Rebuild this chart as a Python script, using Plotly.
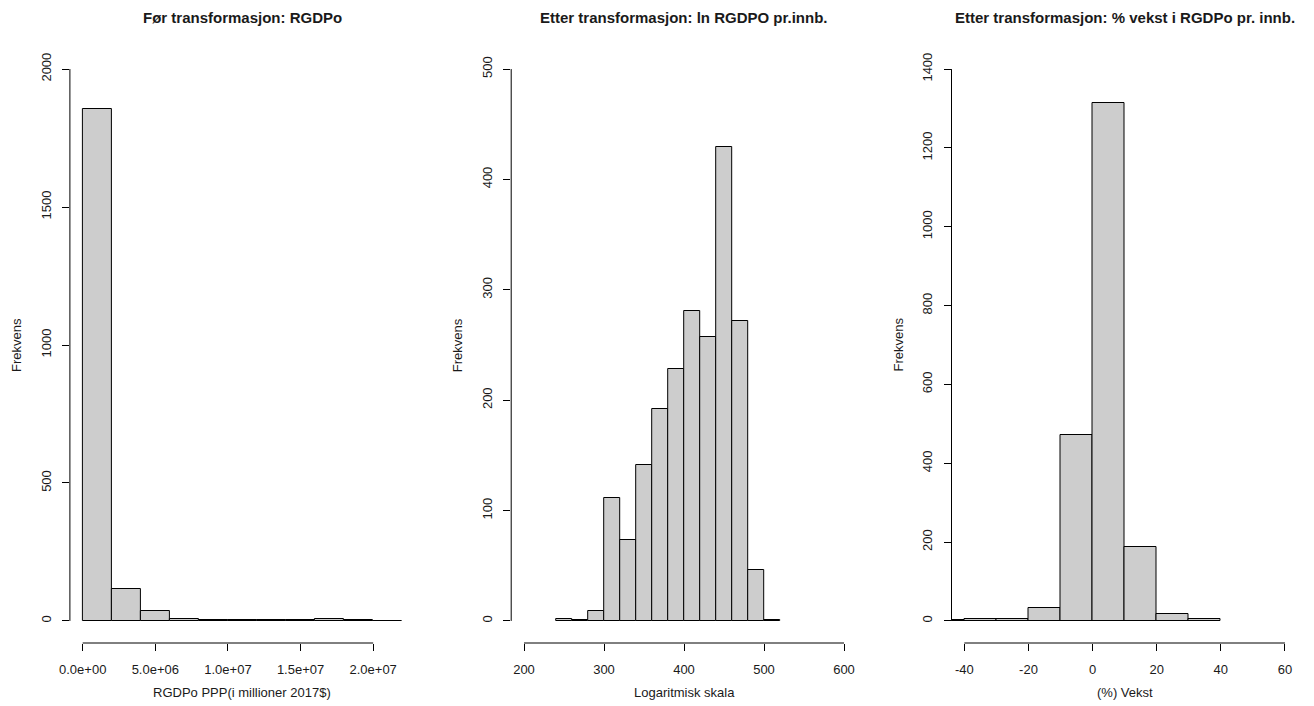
import plotly.graph_objects as go

# ---------------- data ----------------
# Panel 1: RGDPo (bins of 2e6)
breaks1 = [0, 2e6, 4e6, 6e6, 8e6, 10e6, 12e6, 14e6, 16e6, 18e6, 20e6, 22e6]
counts1 = [1856, 115, 36, 6, 2, 5, 2, 5, 7, 3, 1]
xticks1 = [0, 5e6, 10e6, 15e6, 20e6]
xticktext1 = ["0.0e+00", "5.0e+06", "1.0e+07", "1.5e+07", "2.0e+07"]
yticks1 = [0, 500, 1000, 1500, 2000]

# Panel 2: ln RGDPO pr. innb. (bins of 20)
breaks2 = [240, 260, 280, 300, 320, 340, 360, 380, 400, 420, 440, 460, 480, 500, 520]
counts2 = [2, 1, 9, 111, 73, 141, 192, 228, 281, 257, 429, 272, 46, 1]
xticks2 = [200, 300, 400, 500, 600]
xticktext2 = ["200", "300", "400", "500", "600"]
yticks2 = [0, 100, 200, 300, 400, 500]

# Panel 3: % vekst (bins of 10)
breaks3 = [-50, -40, -30, -20, -10, 0, 10, 20, 30, 40]
counts3 = [2, 4, 6, 34, 472, 1314, 188, 18, 4]
xticks3 = [-40, -20, 0, 20, 40, 60]
xticktext3 = ["-40", "-20", "0", "20", "40", "60"]
yticks3 = [0, 200, 400, 600, 800, 1000, 1200, 1400]

titles = ["Før transformasjon: RGDPo",
          "Etter transformasjon: ln RGDPO pr.innb.",
          "Etter transformasjon: % vekst i RGDPo pr. innb."]
xlabels = ["RGDPo PPP(i millioner 2017$)", "Logaritmisk skala", "(%) Vekst"]
ylabel = "Frekvens"

xlims = [[0, 22e6], [200, 600], [-40, 60]]
ylims = [[0, 2000], [0, 500], [0, 1400]]

# ---------------- layout geometry ----------------
W, H = 1314, 706
panel_px = [(69.9, 415.0), (511.2, 856.8), (951.5, 1297.8)]
top_px, bot_px = 47.0, 643.0
ydom = [1 - bot_px / H, 1 - top_px / H]

FONT = "Liberation Sans, Arial, Helvetica, sans-serif"
TXT = "#1a1a1a"
BARFILL = "#cdcdcd"

fig = go.Figure()
panels = [
    (breaks1, counts1, xticks1, xticktext1, yticks1),
    (breaks2, counts2, xticks2, xticktext2, yticks2),
    (breaks3, counts3, xticks3, xticktext3, yticks3),
]

shapes = []
annotations = []
for i, (br, ct, xt, xtt, yt) in enumerate(panels):
    n = i + 1
    xs = "" if n == 1 else str(n)
    centers = [(br[k] + br[k + 1]) / 2 for k in range(len(ct))]
    widths = [br[k + 1] - br[k] for k in range(len(ct))]
    fig.add_trace(go.Bar(
        x=centers, y=ct, width=widths,
        marker=dict(color=BARFILL, line=dict(color="black", width=1)),
        xaxis="x" + xs, yaxis="y" + xs, showlegend=False, hoverinfo="x+y",
    ))
    xl, yl = xlims[i], ylims[i]
    dx = (xl[1] - xl[0]) * 0.04
    dy = (yl[1] - yl[0]) * 0.04
    p0, p1 = panel_px[i]
    fig.layout["xaxis" + xs] = dict(
        domain=[p0 / W, p1 / W], anchor="y" + xs, automargin=False,
        range=[xl[0] - dx, xl[1] + dx],
        tickvals=xt, ticktext=xtt, ticks="outside", ticklen=7,
        tickcolor="black", tickwidth=1, showline=False, showgrid=False,
        zeroline=False, ticklabelstandoff=7,
        tickfont=dict(family=FONT, size=13, color=TXT),
    )
    fig.layout["yaxis" + xs] = dict(
        domain=ydom, anchor="x" + xs, automargin=False,
        range=[yl[0] - dy, yl[1] + dy],
        tickvals=yt, ticks="outside", ticklen=7, tickangle=-90,
        tickcolor="black", tickwidth=1, showline=False, showgrid=False,
        zeroline=False, ticklabelstandoff=6,
        tickfont=dict(family=FONT, size=13, color=TXT),
    )
    # R-style axis lines spanning first..last tick
    shapes.append(dict(type="line", xref="x" + xs, yref="y" + xs + " domain",
                       x0=xt[0], x1=xt[-1], y0=0, y1=0,
                       line=dict(color="black", width=1)))
    shapes.append(dict(type="line", xref="x" + xs + " domain", yref="y" + xs,
                       x0=0, x1=0, y0=yt[0], y1=yt[-1],
                       line=dict(color="black", width=1)))
    # titles and axis labels
    annotations.append(dict(text="<b>" + titles[i] + "</b>", xref="paper", yref="paper",
                            x=(p0 + p1) / 2 / W, y=1 - 17 / H, showarrow=False,
                            xanchor="center", yanchor="middle",
                            font=dict(family=FONT, size=15, color=TXT)))
    annotations.append(dict(text=xlabels[i], xref="paper", yref="paper",
                            x=(p0 + p1) / 2 / W, y=1 - 692 / H, showarrow=False,
                            xanchor="center", yanchor="middle",
                            font=dict(family=FONT, size=13, color=TXT)))
    annotations.append(dict(text=ylabel, xref="paper", yref="paper",
                            x=(p0 - 54) / W, y=1 - ((top_px + bot_px) / 2) / H,
                            showarrow=False, textangle=-90,
                            xanchor="center", yanchor="middle",
                            font=dict(family=FONT, size=13, color=TXT)))

fig.update_layout(
    width=W, height=H, margin=dict(l=0, r=0, t=0, b=0),
    paper_bgcolor="white", plot_bgcolor="white",
    bargap=0, shapes=shapes, annotations=annotations,
    font=dict(family=FONT, color=TXT),
)

fig.write_html("out.html")
